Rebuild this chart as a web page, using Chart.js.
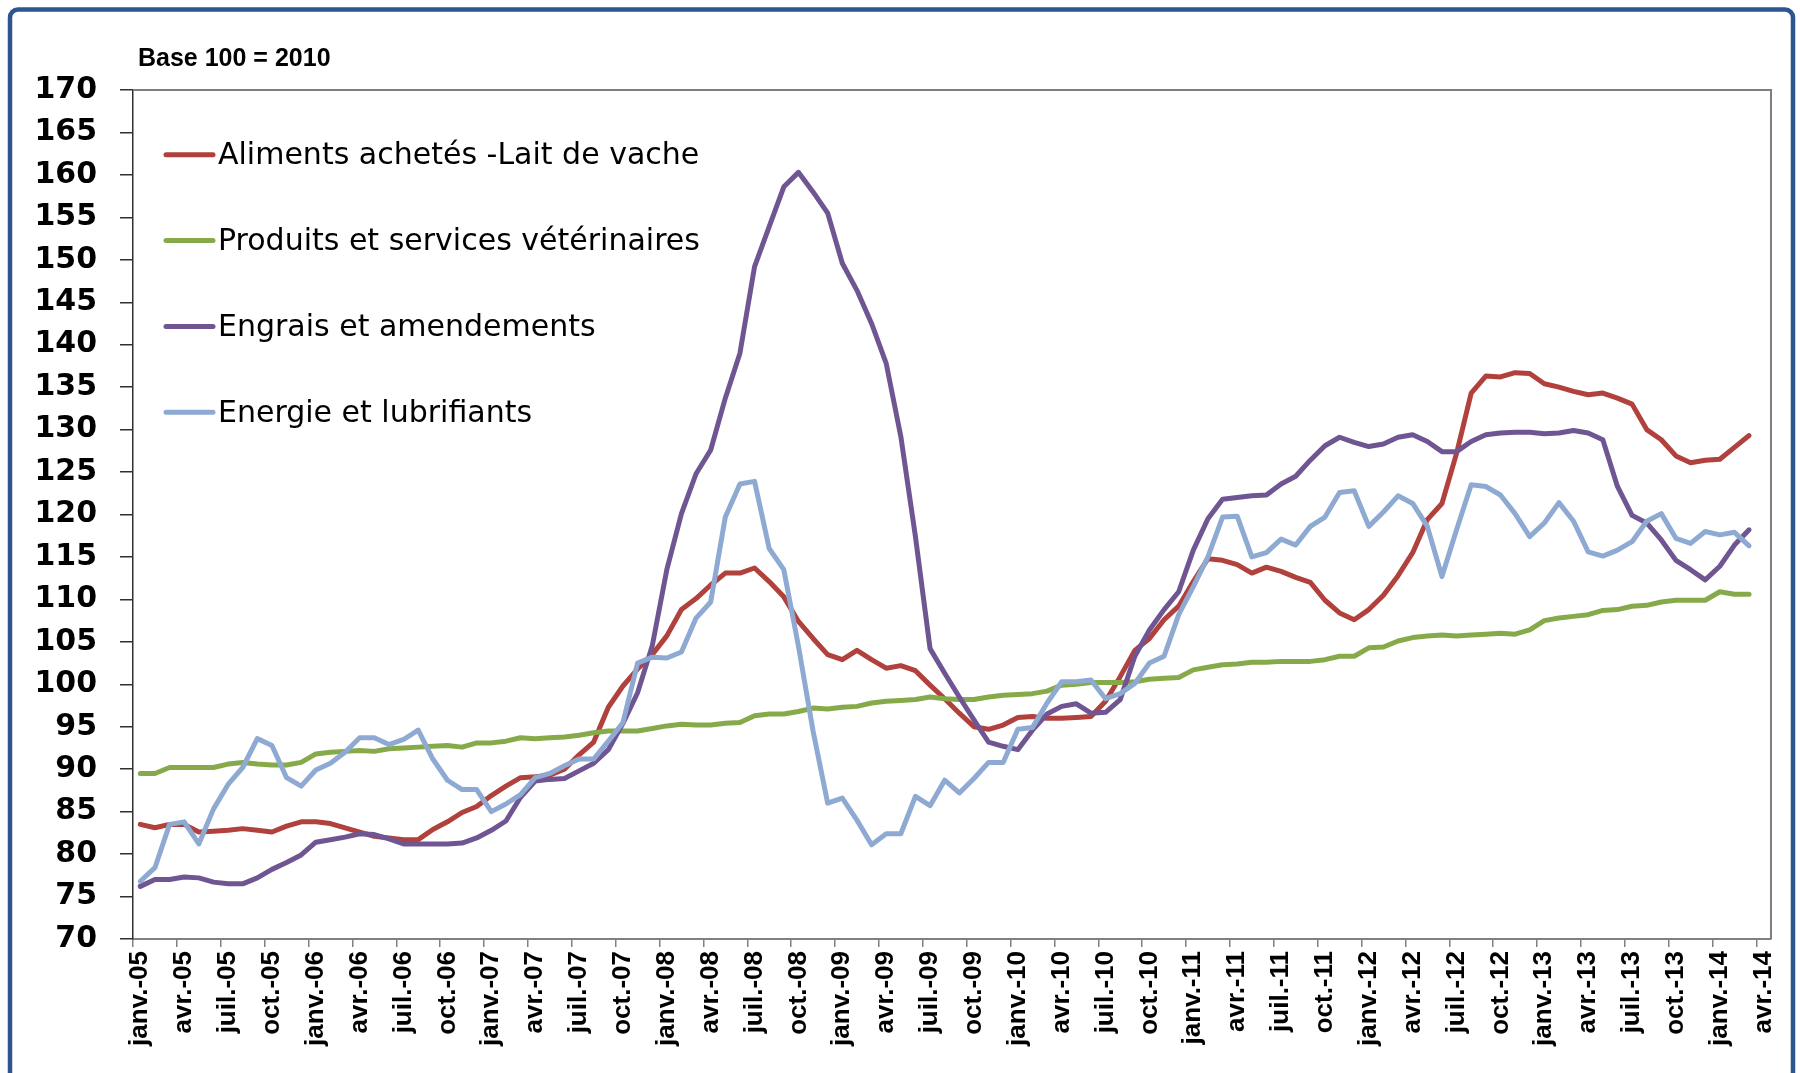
<!DOCTYPE html>
<html>
<head>
<meta charset="utf-8">
<script src="https://cdn.jsdelivr.net/npm/chart.js@4.4.1/dist/chart.umd.min.js"></script>
<style>
  html, body { margin: 0; padding: 0; background: #ffffff; }
  #wrap { position: relative; width: 1800px; height: 1073px; }
</style>
</head>
<body>
<div id="wrap"><canvas id="c"></canvas></div>
<script>
// ---- categories (monthly, janv.-05 .. avr.-14) ----
const monthNames = ['janv.', 'févr.', 'mars', 'avr.', 'mai', 'juin', 'juil.', 'août', 'sept.', 'oct.', 'nov.', 'déc.'];
const years = ['05', '06', '07', '08', '09', '10', '11', '12', '13', '14'];
const categories = [];
years.forEach(y => monthNames.forEach(m => categories.push(m + '-' + y)));
categories.length = 112; // up to avr.-14

const titleText = 'Base 100 = 2010';
const seriesNames = [
  'Aliments achetés -Lait de vache',
  'Produits et services vétérinaires',
  'Engrais et amendements',
  'Energie et lubrifiants'
];

// ---- y-axis tick values ----
const yMin = 70, yMax = 170, yStep = 5;

// ---- series values (index 100 = 2010) ----
const aliments = [
  83.5, 83.1, 83.5, 83.5, 82.6, 82.7, 82.8, 83.0, 82.8, 82.6, 83.3, 83.8,
  83.8, 83.6, 83.1, 82.6, 82.1, 81.9, 81.7, 81.7, 82.9, 83.8, 84.9, 85.6,
  86.9, 88.0, 89.0, 89.1, 89.3, 90.0, 91.7, 93.2, 97.3, 99.8, 101.8, 103.5,
  105.7, 108.8, 110.1, 111.7, 113.1, 113.1, 113.7, 112.1, 110.3, 107.4, 105.4, 103.5,
  102.9, 104.0, 102.9, 101.9, 102.2, 101.6, 99.9, 98.3, 96.6, 95.0, 94.7, 95.2,
  96.1, 96.2, 96.0, 96.0, 96.1, 96.2, 98.0, 100.9, 104.0, 105.4, 107.6, 109.2,
  112.1, 114.8, 114.6, 114.1, 113.1, 113.8, 113.3, 112.6, 112.0, 109.9, 108.4, 107.6,
  108.8, 110.5, 112.8, 115.5, 119.4, 121.3, 127.2, 134.3, 136.3, 136.2, 136.7, 136.6,
  135.4, 135.0, 134.5, 134.1, 134.3, 133.7, 133.0, 130.0, 128.8, 126.9, 126.1, 126.4,
  126.5, 127.9, 129.3, null
];
const veterinaires = [
  89.5, 89.5, 90.2, 90.2, 90.2, 90.2, 90.6, 90.8, 90.6, 90.5, 90.5, 90.8,
  91.8, 92.0, 92.1, 92.2, 92.1, 92.4, 92.5, 92.6, 92.7, 92.8, 92.6, 93.1,
  93.1, 93.3, 93.7, 93.6, 93.7, 93.8, 94.0, 94.3, 94.5, 94.5, 94.5, 94.8,
  95.1, 95.3, 95.2, 95.2, 95.4, 95.5, 96.3, 96.5, 96.5, 96.8, 97.2, 97.1,
  97.3, 97.4, 97.8, 98.0, 98.1, 98.2, 98.5, 98.3, 98.2, 98.2, 98.5, 98.7,
  98.8, 98.9, 99.2, 99.9, 100.0, 100.2, 100.2, 100.2, 100.3, 100.6, 100.7, 100.8,
  101.7, 102.0, 102.3, 102.4, 102.6, 102.6, 102.7, 102.7, 102.7, 102.9, 103.3, 103.3,
  104.3, 104.4, 105.1, 105.5, 105.7, 105.8, 105.7, 105.8, 105.9, 106.0, 105.9, 106.4,
  107.5, 107.8, 108.0, 108.2, 108.7, 108.8, 109.2, 109.3, 109.7, 109.9, 109.9, 109.9,
  110.9, 110.6, 110.6, null
];
const engrais = [
  76.2, 77.0, 77.0, 77.3, 77.2, 76.7, 76.5, 76.5, 77.2, 78.2, 79.0, 79.9,
  81.4, 81.7, 82.0, 82.4, 82.3, 81.8, 81.2, 81.2, 81.2, 81.2, 81.3, 81.9,
  82.8, 83.9, 86.7, 88.6, 88.8, 88.9, 89.8, 90.7, 92.3, 95.4, 99.0, 104.5,
  113.5, 120.1, 124.8, 127.6, 133.7, 139.0, 149.2, 153.9, 158.6, 160.3, 158.0, 155.5,
  149.6, 146.4, 142.5, 137.8, 129.2, 117.4, 104.2, 101.3, 98.5, 95.8, 93.2, 92.7,
  92.3, 94.6, 96.5, 97.4, 97.7, 96.6, 96.7, 98.2, 103.3, 106.4, 108.8, 110.9,
  115.8, 119.5, 121.8, 122.0, 122.2, 122.3, 123.6, 124.5, 126.4, 128.1, 129.1, 128.5,
  128.0, 128.3, 129.1, 129.4, 128.6, 127.4, 127.4, 128.6, 129.4, 129.6, 129.7, 129.7,
  129.5, 129.6, 129.9, 129.6, 128.8, 123.3, 119.9, 119.0, 117.0, 114.6, 113.5, 112.3,
  113.9, 116.4, 118.2, null
];
const energie = [
  76.8, 78.4, 83.5, 83.8, 81.2, 85.3, 88.2, 90.2, 93.6, 92.8, 89.0, 88.0,
  89.9, 90.7, 92.0, 93.7, 93.7, 92.9, 93.5, 94.6, 91.2, 88.7, 87.6, 87.6,
  85.0, 85.9, 87.0, 89.0, 89.5, 90.4, 91.2, 91.2, 93.3, 95.5, 102.5, 103.2,
  103.1, 103.8, 107.8, 109.7, 119.7, 123.6, 123.9, 116.0, 113.5, 104.5, 94.5, 86.0,
  86.6, 84.0, 81.1, 82.4, 82.4, 86.8, 85.7, 88.7, 87.2, 88.9, 90.8, 90.8,
  94.7, 94.9, 97.8, 100.3, 100.3, 100.5, 98.3, 98.9, 100.1, 102.5, 103.3, 108.2,
  111.5, 115.0, 119.7, 119.8, 115.0, 115.5, 117.1, 116.4, 118.6, 119.7, 122.6, 122.8,
  118.6, 120.3, 122.2, 121.3, 118.6, 112.7, 118.2, 123.5, 123.3, 122.3, 120.1, 117.4,
  119.0, 121.4, 119.2, 115.6, 115.1, 115.8, 116.8, 119.2, 120.1, 117.2, 116.6, 118.0,
  117.6, 117.9, 116.3, null
];

const colors = ['#B0413C', '#86AA4A', '#6F5693', '#8EAAD2'];

const decorPlugin = {
  id: 'decor',
  beforeDraw(chart) {
    const ctx = chart.ctx;
    ctx.save();
    ctx.fillStyle = '#ffffff';
    ctx.fillRect(0, 0, chart.width, chart.height);
    // outer frame (open at the bottom)
    const l = 10, t = 9.5, r = 1793, b = 1090, rad = 8;
    ctx.strokeStyle = '#2C5592';
    ctx.lineWidth = 4.5;
    ctx.beginPath();
    ctx.moveTo(l, b);
    ctx.lineTo(l, t + rad);
    ctx.arcTo(l, t, l + rad, t, rad);
    ctx.lineTo(r - rad, t);
    ctx.arcTo(r, t, r, t + rad, rad);
    ctx.lineTo(r, b);
    ctx.stroke();
    ctx.restore();
  },
  afterDraw(chart) {
    const ctx = chart.ctx;
    const a = chart.chartArea;
    ctx.save();
    // plot box top & right
    ctx.strokeStyle = '#7f7f7f';
    ctx.lineWidth = 2;
    ctx.beginPath();
    ctx.moveTo(a.left, a.top);
    ctx.lineTo(a.right, a.top);
    ctx.lineTo(a.right, a.bottom);
    ctx.stroke();
    // title
    ctx.fillStyle = '#000000';
    ctx.font = 'bold 25px "Liberation Sans", Arial, sans-serif';
    ctx.textAlign = 'left';
    ctx.textBaseline = 'alphabetic';
    ctx.fillText(titleText, 138, 66);
    // legend inside plot area
    ctx.font = '30px "DejaVu Sans"';
    chart.data.datasets.forEach((ds, k) => {
      const base = 164.3 + k * 85.8;
      ctx.strokeStyle = ds.borderColor;
      ctx.lineWidth = 5;
      ctx.lineCap = 'round';
      ctx.beginPath();
      ctx.moveTo(166, base - 9.5);
      ctx.lineTo(213, base - 9.5);
      ctx.stroke();
      ctx.fillStyle = '#000000';
      ctx.fillText(ds.label, 218, base);
    });
    ctx.restore();
  }
};

const mkDs = (label, data, color, order) => ({
  label, data,
  borderColor: color,
  backgroundColor: color,
  borderWidth: 5,
  pointRadius: 0,
  pointHoverRadius: 0,
  tension: 0,
  fill: false,
  borderJoinStyle: 'round',
  borderCapStyle: 'round',
  order
});

new Chart(document.getElementById('c'), {
  type: 'line',
  data: {
    labels: categories,
    datasets: [
      mkDs(seriesNames[0], aliments, colors[0], 3),
      mkDs(seriesNames[1], veterinaires, colors[1], 2),
      mkDs(seriesNames[2], engrais, colors[2], 1),
      mkDs(seriesNames[3], energie, colors[3], 0)
    ]
  },
  options: {
    responsive: true,
    maintainAspectRatio: false,
    animation: false,
    devicePixelRatio: 1,
    layout: { padding: { left: 34, right: 29, top: 90, bottom: 0 } },
    plugins: {
      legend: { display: false },
      title: { display: false },
      tooltip: { enabled: false }
    },
    scales: {
      x: {
        type: 'category',
        offset: true,
        afterFit: s => { s.height = 134; },
        grid: {
          offset: true,
          drawOnChartArea: false,
          drawTicks: true,
          tickLength: 8,
          lineWidth: 1.5,
          color: c => (c.index !== undefined && c.index % 3 === 0) ? '#808080' : 'rgba(0,0,0,0)'
        },
        border: { display: true, color: '#808080', width: 2 },
        ticks: {
          autoSkip: false,
          minRotation: 90,
          maxRotation: 90,
          padding: 4,
          color: '#000000',
          font: { family: '"Liberation Sans", Arial, sans-serif', size: 26, weight: 'bold' },
          callback: function (v, i) { return i % 3 === 0 ? this.getLabelForValue(v) : ''; }
        }
      },
      y: {
        min: yMin,
        max: yMax,
        afterFit: s => { s.width = 99; },
        grid: {
          drawOnChartArea: false,
          drawTicks: true,
          tickLength: 13,
          lineWidth: 1.5,
          color: '#303030'
        },
        border: { display: true, color: '#303030', width: 1.5 },
        ticks: {
          stepSize: yStep,
          autoSkip: false,
          padding: 23,
          color: '#000000',
          font: { family: '"DejaVu Sans", sans-serif', size: 30, weight: 'bold' }
        }
      }
    }
  },
  plugins: [decorPlugin]
});
</script>
</body>
</html>
